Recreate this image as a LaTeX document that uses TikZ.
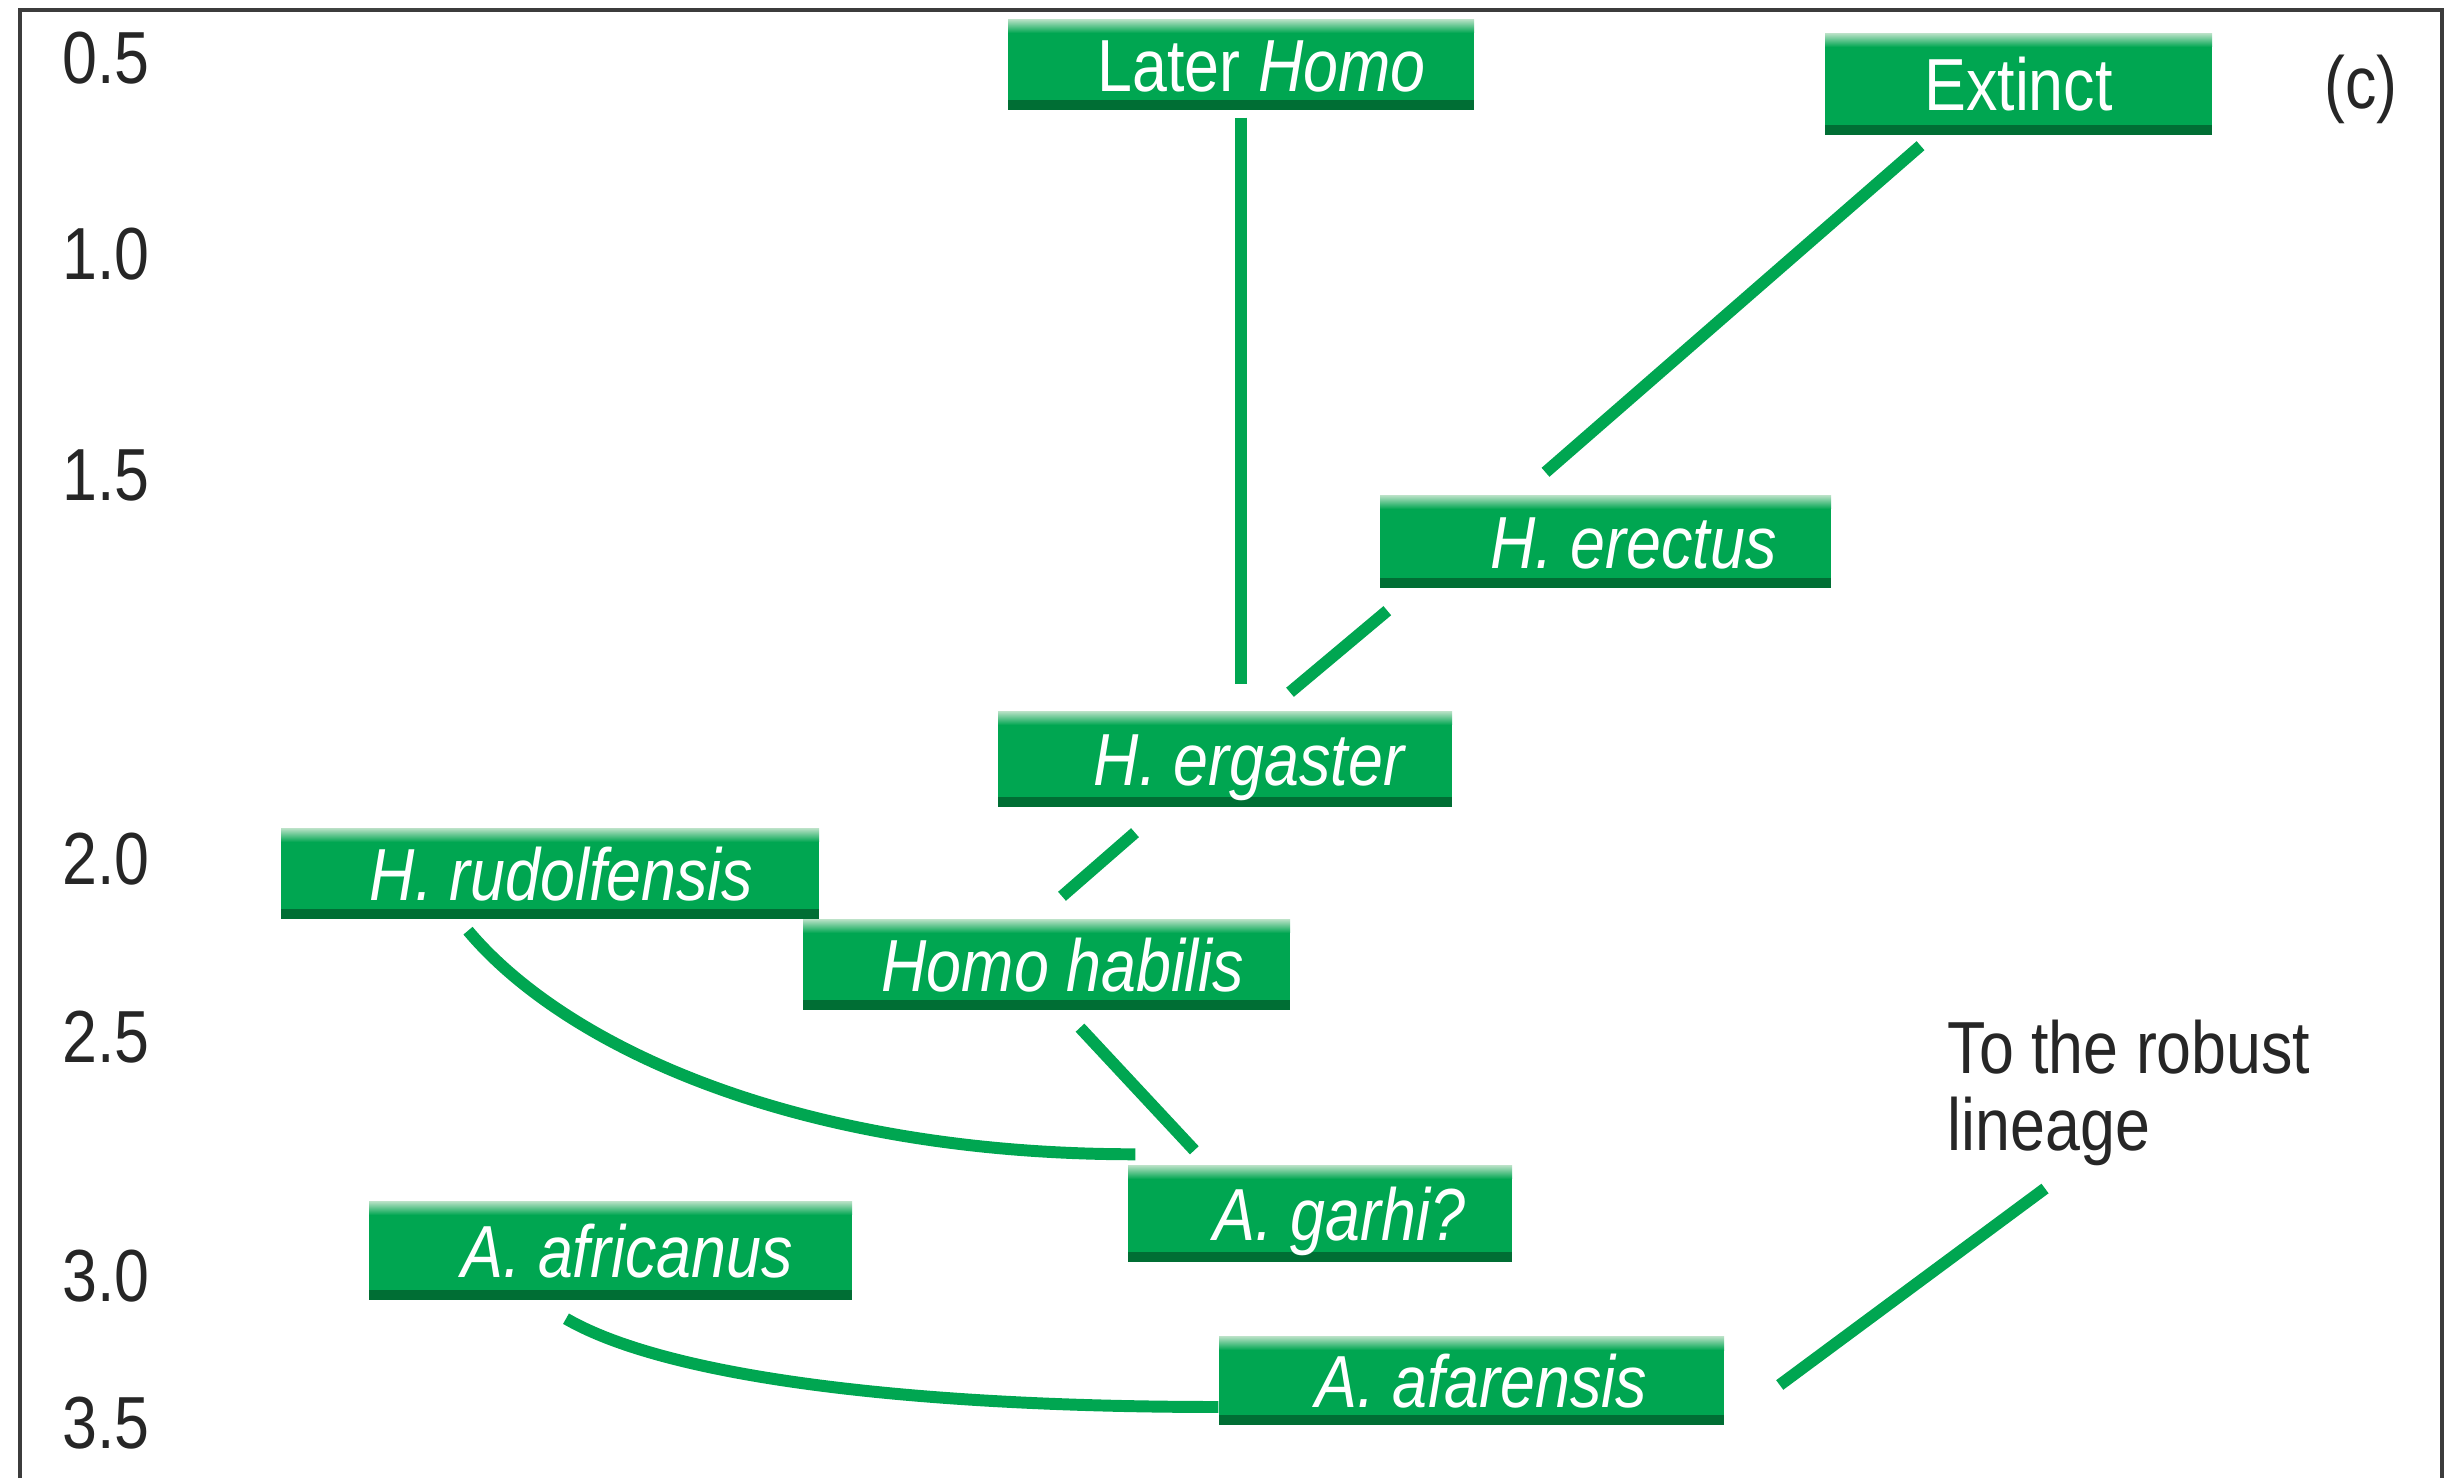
\documentclass[tikz,border=0pt]{standalone}
\usepackage{fontspec}
\setmainfont{Liberation Sans}[FakeStretch=0.85]
\usepackage{tikz}
\usetikzlibrary{calc}
\definecolor{hgreen}{RGB}{0,166,81}
\definecolor{hdark}{RGB}{0,110,52}
\definecolor{hlight}{RGB}{175,222,192}
\definecolor{framegray}{RGB}{60,60,60}
\newcommand{\hominfont}{\fontsize{21}{22}\selectfont}

\begin{document}
\begin{tikzpicture}[
      species/.style={rectangle,fill=hgreen,text=white,inner sep=0pt,
        minimum height=0.9cm,text height=0.53cm,text depth=0pt,font=\hominfont,
        path picture={
          \fill[hdark] (path picture bounding box.south west) rectangle
            ([yshift=0.1cm]path picture bounding box.south east);
          \shade[top color=hlight,bottom color=hgreen] (path picture bounding box.north west) rectangle
            ([yshift=-0.13cm]path picture bounding box.north east);}},
      nudge/.style={execute at begin node=\hspace*{#1}},
      agelabel/.style={text=black!85,inner sep=0pt,text height=0.53cm,text depth=0pt,font=\hominfont},
      link/.style={draw=hgreen,line width=3.4pt}]

      \useasboundingbox (0,0) rectangle (24.54,14.78);
      \draw[framegray,line width=1.4pt] (0.20,0) -- (0.20,14.68) -- (24.42,14.68) -- (24.42,0);

      \node[agelabel] (age05) at (1.06,14.21) {0.5};
      \node[agelabel] (age10) at (1.06,12.25) {1.0};
      \node[agelabel] (age15) at (1.06,10.04) {1.5};
      \node[agelabel] (age20) at (1.06,6.20) {2.0};
      \node[agelabel] (age25) at (1.06,4.42) {2.5};
      \node[agelabel] (age30) at (1.06,2.03) {3.0};
      \node[agelabel] (age35) at (1.06,0.56) {3.5};
      \node[agelabel] (panel) at (23.61,13.96) {(c)};

      \node[species,nudge=0.41cm,minimum width=4.66cm] (later) at (12.41,14.13) {Later \textit{Homo}};
      \node[species,minimum width=3.87cm,minimum height=1.01cm] (extinct) at (20.185,13.935) {Extinct};
      \node[species,nudge=0.56cm,minimum width=4.51cm,minimum height=0.92cm] (erectus) at (16.055,9.36) {\textit{H. erectus}};
      \node[species,nudge=0.5cm,minimum width=4.54cm,minimum height=0.95cm] (ergaster) at (12.25,7.185) {\textit{H. ergaster}};
      \node[species,nudge=0.23cm,minimum width=5.38cm] (rudolf) at (5.50,6.04) {\textit{H. rudolfensis}};
      \node[species,nudge=0.33cm,minimum width=4.87cm] (habilis) at (10.465,5.13) {\textit{Homo habilis}};
      \node[species,nudge=0.39cm,minimum width=3.84cm,minimum height=0.96cm] (garhi) at (13.20,2.64) {\textit{A. garhi?}};
      \node[species,nudge=0.33cm,minimum width=4.83cm,minimum height=0.98cm] (africanus) at (6.105,2.27) {\textit{A. africanus}};
      \node[species,nudge=0.2cm,minimum width=5.05cm,minimum height=0.88cm] (afarensis) at (14.715,0.97) {\textit{A. afarensis}};
      \node[text=black!85,font=\hominfont,align=left,inner sep=0pt,anchor=north west] (robust) at (19.47,4.59) {To the robust\\lineage};

      \draw[link,shorten <=0.07cm,shorten >=0.27cm] (later.south) -- (later.south |- ergaster.north);
      \draw[link] ($(extinct.south)+(-0.98,-0.1)$) -- ($(erectus.north)+(-0.6,0.23)$);
      \draw[link] ($(erectus.south west)+(0.08,-0.22)$) -- ($(ergaster.north)+(0.65,0.19)$);
      \draw[link] ($(ergaster.south)+(-0.9,-0.25)$) -- ($(habilis.north)+(0.155,0.23)$);
      \draw[link] ($(rudolf.south)+(-0.82,-0.11)$) .. controls +(-50:1.5) and +(-3.4,0) .. ($(garhi.north west)+(0.08,0.11)$);
      \draw[link] ($(habilis.south)+(0.335,-0.17)$) -- ($(garhi.north west)+(0.67,0.15)$);
      \draw[link] ($(africanus.south)+(-0.445,-0.18)$) .. controls +(-30:1.2) and +(-3,0) .. ($(afarensis.west)+(0,-0.26)$);
      \draw[link] ($(afarensis.east)+(0.55,-0.04)$) -- ($(robust.south west)+(0.98,-0.22)$);
\end{tikzpicture}
\end{document}
